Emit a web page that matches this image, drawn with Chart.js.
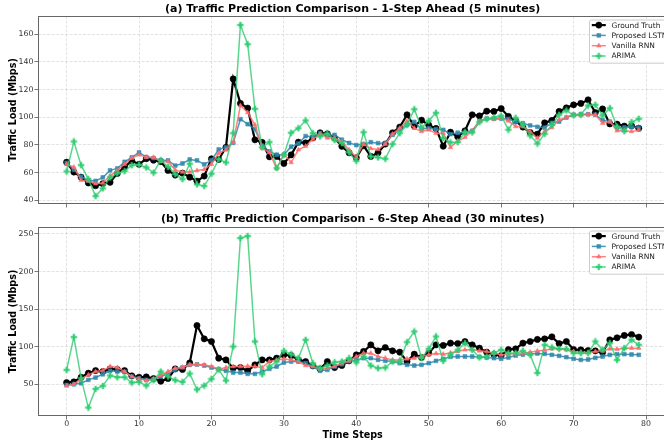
<!DOCTYPE html>
<html>
<head>
<meta charset="utf-8">
<script src="https://cdn.jsdelivr.net/npm/chart.js@4.4.1/dist/chart.umd.min.js"></script>
<style>
  html, body { margin: 0; padding: 0; background: #fff; overflow: hidden; }
  .panel { position: absolute; left: 0; width: 672px; }
  #top { top: 0; height: 210px; }
  #bottom { top: 210px; height: 235px; }
</style>
</head>
<body>
<div class="panel" id="top"><canvas id="c1"></canvas></div>
<div class="panel" id="bottom"><canvas id="c2"></canvas></div>
<script>
/* Traffic prediction comparison — two stacked panels */

const seriesNames = ['Ground Truth', 'Proposed LSTM', 'Vanilla RNN', 'ARIMA'];
const xTicks = [0, 10, 20, 30, 40, 50, 60, 70, 80];
const topYTicks = [40, 60, 80, 100, 120, 140, 160];
const bottomYTicks = [50, 100, 150, 200, 250];

// (a) 1-step ahead
const gt1 = [67.5, 60.4, 56.7, 52.5, 50.5, 52, 53, 59.4, 64, 68.5, 66, 70, 69, 68, 61.6, 58.2, 59.6, 56.7, 53.8, 57.5,
  70, 69.5, 78.2, 127.7, 110, 106.6, 83.7, 81.8, 71.4, 71.7, 66.6, 72.8, 82, 81.5, 85, 88.8, 88, 85, 79, 74.3,
  70.7, 79.4, 71.7, 74.3, 80.6, 88.8, 92.9, 101.8, 93.6, 97.9, 94.3, 91.9, 79.1, 89.2, 85.9, 90.2, 101.8, 101, 104.4, 104.2,
  106.3, 100.6, 97.4, 92.9, 89, 87.8, 96, 97.7, 104.2, 106.8, 109, 110, 112.6, 103.4, 106, 95.2, 95, 93.6, 93.8, 92.1];
const lstm1 = [67, 62, 57, 54.3, 54, 56.5, 61.6, 63, 67.8, 71, 74.6, 71.2, 70.5, 68.8, 68.8, 65, 66.6, 69.5, 68.8, 65.9,
  69, 76.7, 78.2, 81.5, 98.6, 95, 91.4, 79.4, 75.3, 72.9, 72.9, 78.7, 81, 86.4, 85.9, 88.5, 86.8, 87.3, 83.8, 81.4,
  79.9, 80.6, 82, 81.3, 81.3, 87.3, 91.2, 94.5, 96.7, 91.6, 92.1, 91.4, 90.9, 87.8, 88.8, 88.8, 90.2, 97.4, 99.1, 99,
  99.1, 98.9, 96.5, 95.7, 94.1, 93.1, 92.4, 96, 96.9, 99.8, 101.8, 102.2, 102.2, 101.8, 97.9, 96.9, 92.4, 92.6, 92.9, 92.6];
const rnn1 = [66, 64, 54.5, 54, 51.9, 52.5, 57.7, 61.6, 66.1, 70.5, 72.9, 71.2, 71, 68, 68, 61.8, 60.4, 60.4, 61.5, 62.3,
  66.1, 74.1, 76.3, 81.8, 108.5, 103.4, 94.5, 77.7, 74.5, 62.8, 73.4, 67.3, 76.5, 79.1, 84.2, 88, 85, 85, 82.5, 76.5,
  71, 80.6, 77.4, 76.7, 80.6, 87.8, 92.1, 97.4, 92.1, 89.7, 90.9, 88.5, 88.5, 78.2, 82.7, 85.5, 90.2, 97, 99.1, 98.6,
  99.3, 97.4, 93.3, 93.3, 89.7, 84.9, 89.7, 92.6, 98.1, 100.1, 102, 101.6, 101.8, 101.8, 95.7, 96.9, 90.2, 90.2, 89.7, 90.7];
const arima1 = [60.8, 82.5, 65.4, 55.3, 43, 48.6, 56.5, 59.4, 61.1, 65.4, 65.7, 63.7, 59.9, 69, 64.2, 58.9, 55.3, 66.4, 51.5, 50.3,
  59.2, 69.7, 67.3, 88.5, 166.7, 152.8, 106.1, 78.2, 82, 63.3, 72.9, 88.8, 92.1, 97.7, 88.5, 86.1, 88.3, 83.5, 81.3, 74.6,
  68.5, 89.2, 71.7, 71, 70, 80.6, 88.5, 94.5, 105.8, 92.6, 97.4, 103.2, 85, 81.8, 82, 89.2, 89, 96.5, 98.6, 99.8,
  101.1, 91, 99.6, 94.5, 86.8, 81, 88, 94.5, 101.8, 104.9, 101.3, 101.8, 108.5, 109, 101.3, 106.6, 93.3, 89.9, 96.5, 98.9];

// (b) 6-step ahead
const gt6 = [52.2, 53.1, 59.3, 64.7, 68.2, 66.9, 70.4, 69.6, 68.2, 61.1, 59.3, 59.8, 57.6, 54, 57.6, 70.4, 69.6, 78.4, 128.2, 110.4,
  106.9, 84.7, 82.4, 71.3, 72.2, 67.8, 75.8, 82.4, 82.4, 84.7, 89.1, 88.2, 82.4, 80.2, 74.4, 70.4, 80.2, 72.2, 74.9, 81.1,
  89.1, 93.6, 102.4, 94.4, 98.9, 94.4, 92.7, 80.2, 90, 85.6, 91.3, 102.4, 101.6, 104.7, 104.2, 106.9, 102.4, 98, 92.7, 89.5,
  88.2, 96.2, 97.1, 104.7, 106.9, 109.6, 110.4, 113.1, 104.2, 106.9, 96.2, 95.8, 94.9, 94.4, 92.2, 109.1, 111.8, 114.9, 116.2, 112.7];
const lstm6 = [49.1, 50, 51.3, 55.8, 58.9, 63.3, 67.8, 66.9, 66.4, 60.2, 58, 55.8, 56.7, 60.2, 63.8, 69.1, 72.2, 75.8, 76.3, 74.9,
  72.2, 70, 67.8, 65.6, 65.6, 63.8, 63.8, 66.9, 70.4, 73.6, 78.9, 80.2, 80.2, 78, 73.6, 67.8, 69.1, 73.6, 76.5, 80.6,
  82.4, 84.7, 84.7, 82.4, 81.1, 80.2, 78, 75.8, 74.9, 75.8, 78, 81.1, 83.8, 86.4, 86.9, 86.9, 86.9, 86.4, 85.6, 84.7,
  83.8, 85.6, 88.2, 89.6, 90.4, 90.9, 90.4, 89.1, 87.8, 86, 83.8, 82.4, 82.9, 85.1, 86.9, 89.1, 90, 90, 89.6, 89.1];
const rnn6 = [47.8, 50, 57.1, 62.4, 66.9, 68.2, 73.6, 72.2, 66.9, 60.2, 57.1, 54.9, 57.1, 61.6, 66.9, 71.3, 72.7, 75.8, 76.3, 75.8,
  73.6, 70, 72.2, 73.6, 73.6, 74, 73.6, 72.2, 80.2, 82.4, 83.8, 82.4, 80.2, 74.9, 73.6, 70.4, 71.3, 73.6, 78, 81.1,
  86.9, 91.3, 91.3, 86.9, 84.7, 82.4, 82.4, 83.8, 84.7, 86.9, 89.1, 90.9, 90, 91.8, 93.6, 95.8, 95.8, 94.4, 93.6, 91.3,
  89.1, 90, 90.9, 91.3, 92.7, 94.4, 95.3, 97.1, 97.1, 95.8, 93.6, 92.7, 92.2, 93.6, 94.4, 97.1, 96.7, 98, 98, 98];
const arima6 = [69.1, 112.7, 58, 18.9, 43.8, 47.8, 61.6, 59.3, 59.3, 52.2, 53.1, 48.2, 55.3, 66.9, 60.2, 55.3, 53.1, 64.2, 42.9, 48.2,
  57.1, 69.6, 54.9, 100.2, 244.7, 247.3, 106.9, 63.3, 73.6, 80.2, 94.4, 90, 84.7, 109.1, 78, 71.3, 74.9, 79.3, 80.2, 84.7,
  78.9, 86.9, 74.9, 71.3, 72.2, 80.2, 80.2, 106, 120.2, 84.7, 97.1, 113.6, 81.1, 89.1, 95.8, 104.7, 95.8, 85.6, 86.9, 91.8,
  95.8, 91.3, 91.3, 94.4, 89.1, 65.1, 102.4, 98.9, 97.1, 97.1, 91.3, 91.3, 91.3, 106.9, 95.8, 104.7, 82.4, 98, 109.1, 102.4];

const FONT = '"DejaVu Sans", sans-serif';
const GRID = 'rgba(185,185,185,0.5)';

// filled plus marker (matplotlib 'P')
function plusMarker(color) {
  const c = document.createElement('canvas');
  c.width = 8; c.height = 8;
  const g = c.getContext('2d');
  g.fillStyle = color;
  g.fillRect(2.8, 0.8, 2.4, 6.4);
  g.fillRect(0.8, 2.8, 6.4, 2.4);
  return c;
}

const styles = [
  { color: '#000000', lw: 2.2, point: 'circle', r: 3.1 },
  { color: 'rgba(46,134,171,0.85)', lw: 1.5, point: 'rect', r: 2.7 },
  { color: 'rgba(255,107,107,0.85)', lw: 1.5, point: 'triangle', r: 2.6 },
  { color: 'rgba(46,204,113,0.8)', lw: 1.5, point: plusMarker('rgba(46,204,113,0.85)'), r: 4 }
];

function pts(arr) { return arr.map((v, i) => ({ x: i, y: v })); }

const panelPlugin = {
  id: 'panel',
  afterDraw(chart) {
    const { ctx, chartArea: a } = chart;
    const opts = chart.options.plugins.panel;
    ctx.save();
    // axes frame
    ctx.strokeStyle = '#666';
    ctx.lineWidth = 1;
    ctx.strokeRect(Math.round(a.left) + 0.5, Math.round(a.top) + 0.5,
      Math.round(a.right - a.left) - 1, Math.round(a.bottom - a.top) - 1);
    // title
    ctx.fillStyle = '#000';
    ctx.font = 'bold 11px ' + FONT;
    ctx.textAlign = 'center';
    ctx.textBaseline = 'middle';
    ctx.fillText(opts.title, (a.left + a.right) / 2, 9);

    // legend, upper right (partly cut by the window edge, as in the source)
    const fs = 7.5;
    ctx.font = fs + 'px ' + FONT;
    const textW = Math.max(...seriesNames.map(n => ctx.measureText(n).width));
    const pad = 2.8, hl = 14, htp = 5.6, rowH = 10.3;
    const top = a.top + 3.5;
    const left = a.left + 551;
    const w = pad * 2 + hl + htp + textW;
    const h = rowH * seriesNames.length + 2;
    ctx.beginPath();
    ctx.roundRect(left + 0.5, top + 0.5, w, h, 2);
    ctx.fillStyle = 'rgba(255,255,255,0.85)';
    ctx.fill();
    ctx.strokeStyle = '#cccccc';
    ctx.lineWidth = 1;
    ctx.stroke();
    seriesNames.forEach((name, i) => {
      const s = styles[i];
      const y = top + 5.6 + rowH * i;
      const x0 = left + pad;
      ctx.beginPath();
      ctx.strokeStyle = s.color;
      ctx.fillStyle = s.color;
      ctx.lineWidth = s.lw;
      ctx.moveTo(x0, y);
      ctx.lineTo(x0 + hl, y);
      ctx.stroke();
      ctx.lineWidth = 0.6;
      Chart.helpers.drawPoint(ctx, {
        pointStyle: s.point, radius: s.r, rotation: 0, borderWidth: 0.6
      }, x0 + hl / 2, y);
      ctx.fillStyle = '#222';
      ctx.textAlign = 'left';
      ctx.textBaseline = 'middle';
      ctx.fillText(name, x0 + hl + htp, y + 0.5);
    });
    ctx.restore();
  }
};

function makePanel(id, title, series, yTicks, yMin, yMax, showX) {
  const datasets = series.map((arr, i) => ({
    label: seriesNames[i],
    data: pts(arr),
    borderColor: styles[i].color,
    backgroundColor: styles[i].color,
    pointBackgroundColor: styles[i].color,
    borderWidth: styles[i].lw,
    pointStyle: styles[i].point,
    pointRadius: styles[i].r,
    pointBorderWidth: 0.6,
    pointBorderColor: styles[i].color,
    tension: 0
  })).reverse();
  // reversed so the first series is painted first, like matplotlib
  datasets.forEach((d, k) => { d.order = k; });

  return new Chart(document.getElementById(id), {
    type: 'line',
    data: { datasets },
    options: {
      responsive: true,
      maintainAspectRatio: false,
      animation: false,
      layout: { padding: { top: showX ? 17 : 16, right: 2, left: 0, bottom: 0 } },
      plugins: {
        legend: { display: false },
        tooltip: { enabled: false },
        panel: { title }
      },
      scales: {
        x: {
          type: 'linear',
          min: -3.95,
          max: 82.95,
          afterBuildTicks: s => { s.ticks = xTicks.map(v => ({ value: v })); },
          afterFit: s => { s.height = showX ? 29 : 6; },
          ticks: {
            display: showX,
            autoSkip: false,
            maxRotation: 0,
            padding: 0,
            color: '#333',
            font: { family: FONT, size: 7.8 }
          },
          grid: {
            color: GRID,
            lineWidth: 0.8,
            tickLength: 3.5,
            tickColor: '#555',
            tickWidth: 0.8
          },
          border: { display: false, dash: [3, 1.5] },
          title: {
            display: showX,
            text: 'Time Steps',
            color: '#000',
            font: { family: FONT, size: 9.6, weight: 'bold' },
            padding: { top: 0, bottom: 4 }
          }
        },
        y: {
          min: yMin,
          max: yMax,
          afterBuildTicks: s => { s.ticks = yTicks.map(v => ({ value: v })); },
          afterFit: s => { s.width = 38; },
          ticks: {
            padding: 1,
            color: '#333',
            font: { family: FONT, size: 7.8 }
          },
          grid: {
            color: GRID,
            lineWidth: 0.8,
            tickLength: 3.5,
            tickColor: '#555',
            tickWidth: 0.8
          },
          border: { display: false, dash: [3, 1.5] },
          title: {
            display: true,
            text: 'Traffic Load (Mbps)',
            color: '#000',
            font: { family: FONT, size: 9.6, weight: 'bold' },
            padding: { top: 7.5, bottom: 0 }
          }
        }
      }
    },
    plugins: [panelPlugin]
  });
}

makePanel('c1', '(a) Traffic Prediction Comparison - 1-Step Ahead (5 minutes)',
  [gt1, lstm1, rnn1, arima1], topYTicks, 37.3, 173.2, false);
makePanel('c2', '(b) Traffic Prediction Comparison - 6-Step Ahead (30 minutes)',
  [gt6, lstm6, rnn6, arima6], bottomYTicks, 7.7, 259.3, true);
</script>
</body>
</html>
